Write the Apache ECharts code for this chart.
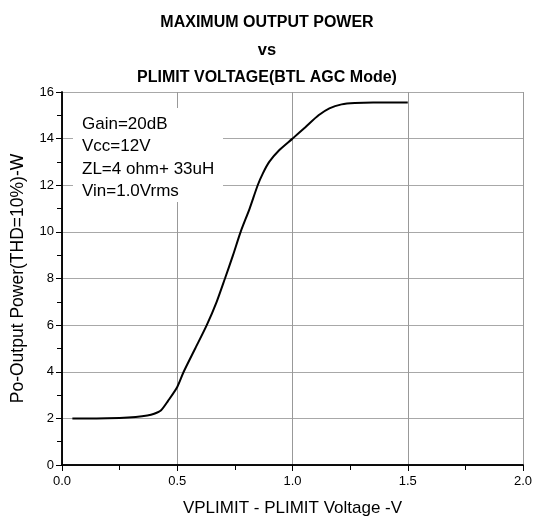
<!DOCTYPE html>
<html><head><meta charset="utf-8">
<script src="https://cdn.jsdelivr.net/npm/echarts@6/dist/echarts.min.js"></script>
<style>html,body{margin:0;padding:0;background:#fff}#c{width:534px;height:518px}</style>
</head><body><div id="c"></div>
<script>
const titleLines = ['MAXIMUM OUTPUT POWER', 'vs', 'PLIMIT VOLTAGE(BTL AGC Mode)'];
const xTitle = 'VPLIMIT - PLIMIT Voltage -V';
const yTitle = 'Po-Output Power(THD=10%)-W';
const noteLines = ['Gain=20dB', 'Vcc=12V', 'ZL=4 ohm+ 33uH', 'Vin=1.0Vrms'];
const vplimit = [0.045, 0.15, 0.25, 0.32, 0.37, 0.40, 0.43, 0.46, 0.50, 0.528, 0.578, 0.628, 0.671, 0.707, 0.742, 0.775, 0.814, 0.849, 0.871, 0.899, 0.942, 1.00, 1.057, 1.113, 1.16, 1.213, 1.27, 1.35, 1.50];
const power   = [2.0, 2.0, 2.02, 2.06, 2.12, 2.2, 2.35, 2.75, 3.35, 4.0, 5.0, 6.0, 7.0, 8.0, 9.0, 10.0, 11.0, 12.0, 12.5, 13.0, 13.5, 14.0, 14.5, 15.0, 15.3, 15.47, 15.53, 15.55, 15.55];
const xTicks = [0, 0.5, 1.0, 1.5, 2.0];
const yTicks = [0, 2, 4, 6, 8, 10, 12, 14, 16];

const chart = echarts.init(document.getElementById('c'), null, {renderer: 'canvas'});
const axisFont = {fontFamily: 'Liberation Sans', fontSize: 13, color: '#000'};
const tf = {fontFamily: 'Liberation Sans', fontWeight: 'bold', color: '#000', lineHeight: 27.5};
chart.setOption({
  animation: false,
  backgroundColor: '#fff',
  title: {
    text: '{a|' + titleLines[0] + '}\n{b|' + titleLines[1] + '}\n{c|' + titleLines[2] + '}',
    left: 'center', top: 4,
    textStyle: Object.assign({fontSize: 16, rich: {
      a: Object.assign({fontSize: 16}, tf),
      b: Object.assign({fontSize: 16.5}, tf),
      c: Object.assign({fontSize: 16}, tf)
    }}, tf)
  },
  grid: {left: 62, right: 11, top: 92, bottom: 53, containLabel: false, outerBoundsMode: 'none'},
  xAxis: [{
    type: 'value', min: 0, max: 2.0, interval: 0.5, position: 'bottom',
    name: xTitle, nameLocation: 'middle', nameGap: 35,
    nameTextStyle: {fontFamily: 'Liberation Sans', fontSize: 17, color: '#000'},
    axisLine: {lineStyle: {color: '#000', width: 1.5}},
    axisTick: {show: true, inside: false, length: 6, lineStyle: {color: '#000'}},
    minorTick: {show: true, splitNumber: 2, length: 3, lineStyle: {color: '#000'}},
    axisLabel: Object.assign({margin: 10, formatter: v => v.toFixed(1)}, axisFont),
    splitLine: {show: true, lineStyle: {color: '#999', width: 1}}
  }, {
    type: 'value', min: 0, max: 2.0, interval: 0.25, position: 'top',
    axisLine: {show: true, lineStyle: {color: '#000', width: 1.5}},
    axisTick: {show: true, inside: true, length: 5, lineStyle: {color: '#000'}},
    axisLabel: {show: false}, splitLine: {show: false}
  }],
  yAxis: [{
    type: 'value', min: 0, max: 16, interval: 2, position: 'left',
    name: yTitle, nameLocation: 'middle', nameGap: 35, nameRotate: 90,
    nameTextStyle: {fontFamily: 'Liberation Sans', fontSize: 17.5, color: '#000'},
    axisLine: {show: true, lineStyle: {color: '#000', width: 1.5}},
    axisTick: {show: true, inside: false, length: 6, lineStyle: {color: '#000'}},
    minorTick: {show: true, splitNumber: 2, length: 3, lineStyle: {color: '#000'}},
    axisLabel: Object.assign({margin: 8}, axisFont),
    splitLine: {show: true, lineStyle: {color: '#a8a8a8', width: 1}}
  }, {
    type: 'value', min: 0, max: 16, interval: 1, position: 'right',
    axisLine: {show: true, lineStyle: {color: '#000', width: 1.5}},
    axisTick: {show: true, inside: true, length: 5, lineStyle: {color: '#000'}},
    axisLabel: {show: false}, splitLine: {show: false}
  }],
  graphic: [{
    type: 'rect', left: 73, top: 108, z: 50,
    shape: {width: 150, height: 94}, style: {fill: '#fff'}
  }, {
    type: 'text', left: 82, top: 113, z: 51,
    style: {text: noteLines.join('\n'), fontFamily: 'Liberation Sans', fontSize: 17, lineHeight: 22.5, fill: '#000'}
  }],
  series: [{
    type: 'line', xAxisIndex: 0, yAxisIndex: 0,
    data: vplimit.map((x, i) => [x, power[i]]),
    smooth: 0.25, showSymbol: false, symbol: 'none',
    lineStyle: {color: '#000', width: 2}
  }]
});
</script></body></html>
